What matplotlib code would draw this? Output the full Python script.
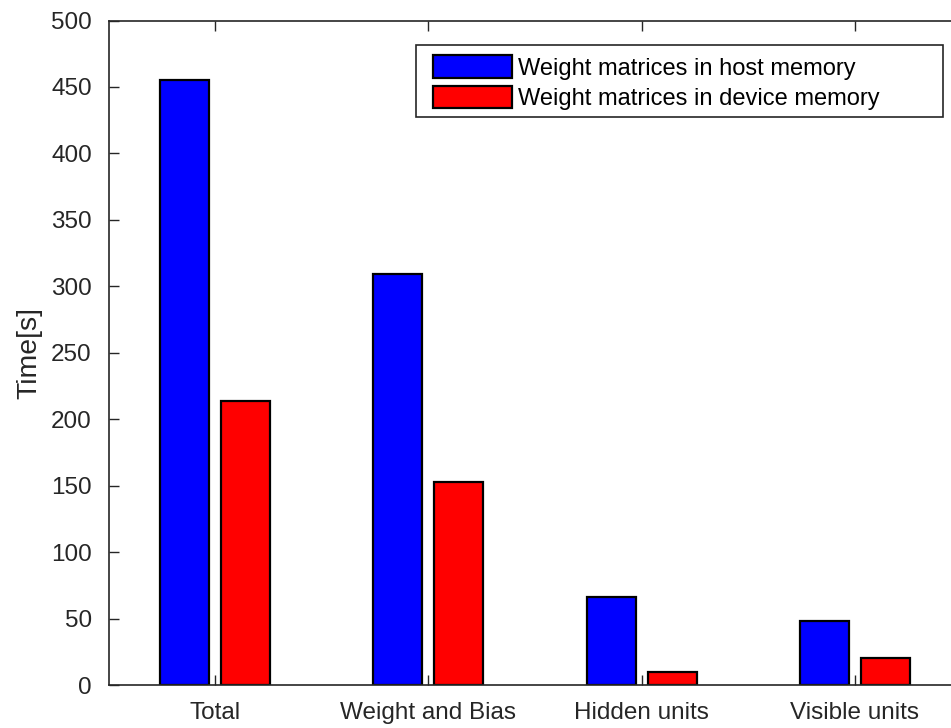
import matplotlib
matplotlib.use("Agg")
import matplotlib.pyplot as plt
from matplotlib.patches import Rectangle
import numpy as np

plt.rcParams['font.family'] = ['Liberation Sans', 'DejaVu Sans']

categories = ["Total", "Weight and Bias", "Hidden units", "Visible units"]
host_memory = [455, 309, 66, 48]
device_memory = [214, 153, 10, 20]
series_labels = ["Weight matrices in host memory", "Weight matrices in device memory"]
y_ticks = [0, 50, 100, 150, 200, 250, 300, 350, 400, 450, 500]

W, H = 951, 728
fig = plt.figure(figsize=(W / 100, H / 100), dpi=100)
ax = fig.add_axes([108.5 / W, 1 - 685 / H, 853 / W, (685 - 20.5) / H])

x = np.arange(1, len(categories) + 1)
offset = 0.143
width = 0.23
ink = "#262626"

ax.bar(x - offset, host_memory, width, color="#0000ff", edgecolor="black",
       linewidth=1.6, label=series_labels[0], zorder=2)
ax.bar(x + offset, device_memory, width, color="#ff0000", edgecolor="black",
       linewidth=1.6, label=series_labels[1], zorder=2)

ax.set_xlim(0.5, 4.5)
ax.set_ylim(0, 500)
ax.set_xticks(x)
ax.set_xticklabels(categories)
ax.set_yticks(y_ticks)
ax.tick_params(axis="both", direction="in", length=7, width=1, colors=ink,
               labelsize=17.5, top=True, right=True, pad=12)
for s in ax.spines.values():
    s.set_color(ink)
    s.set_linewidth(1.2)
ax.set_ylabel("Time[s]", fontsize=20.4, color=ink, labelpad=6)

# legend entries without their own frame; the box is drawn separately
leg = fig.legend(loc="upper left", bbox_to_anchor=(433 / W, 1 - 55.5 / H),
                 fontsize=17, frameon=False,
                 handlelength=3.35, handleheight=1.1, handletextpad=0.25,
                 labelspacing=0.25, borderpad=0, borderaxespad=0)
for t in leg.get_texts():
    t.set_color("black")
fig.add_artist(Rectangle((416 / W, 1 - 117 / H), (943 - 416) / W, (117 - 45) / H,
                         transform=fig.transFigure, facecolor="white",
                         edgecolor=ink, linewidth=1.2, zorder=4))
leg.set_zorder(5)

fig.savefig("out.png", dpi=100)
